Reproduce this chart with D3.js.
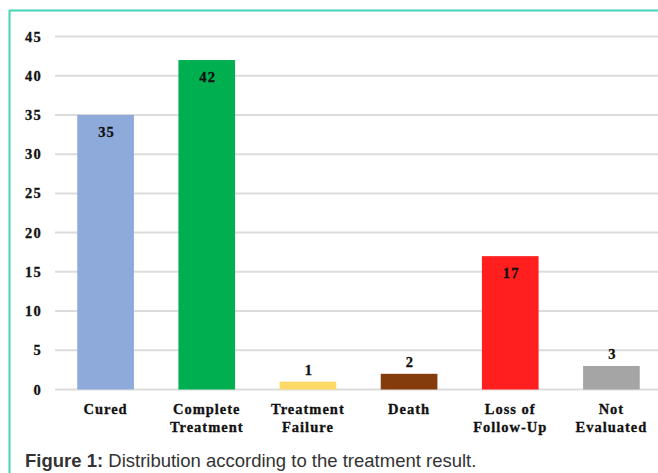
<!DOCTYPE html>
<html>
<head>
<meta charset="utf-8">
<script src="https://cdn.jsdelivr.net/npm/d3@7/dist/d3.min.js"></script>
<style>
html,body{margin:0;padding:0;background:#fff;}
svg{display:block;}
</style>
</head>
<body>
<svg id="chart" width="658" height="473"></svg>
<script>
const categories = [["Cured"], ["Complete", "Treatment"], ["Treatment", "Failure"], ["Death"], ["Loss of", "Follow-Up"], ["Not", "Evaluated"]];
const values = [35, 42, 1, 2, 17, 3];
const colors = ["#8eaadb", "#00b050", "#ffd966", "#843c0c", "#ff1f1f", "#a5a5a5"];
const yTicks = [0, 5, 10, 15, 20, 25, 30, 35, 40, 45];
const caption = ["Figure 1:", " Distribution according to the treatment result."];

const svg = d3.select("#chart");
const W = 658, H = 473;

const x = d3.scaleBand().domain(d3.range(values.length)).range([55, 662]).paddingInner(0.44).paddingOuter(0.22);
const y = d3.scaleLinear().domain([0, 45]).range([389.5, 36.5]);

// border (teal)
svg.append("line").attr("x1", 9.5).attr("x2", W).attr("y1", 10.5).attr("y2", 10.5)
  .attr("stroke", "#45d4b8").attr("stroke-width", 2);
svg.append("line").attr("x1", 9.5).attr("x2", 9.5).attr("y1", 10).attr("y2", H)
  .attr("stroke", "#45d4b8").attr("stroke-width", 2);

// gridlines
svg.append("g").selectAll("line").data(yTicks).join("line")
  .attr("x1", 55).attr("x2", W)
  .attr("y1", d => y(d)).attr("y2", d => y(d))
  .attr("stroke", "#dcdcdc").attr("stroke-width", 2);

const serif = "'Liberation Serif', 'Times New Roman', serif";

// y tick labels
svg.append("g").selectAll("text").data(yTicks).join("text")
  .attr("x", 42).attr("y", d => y(d) + 5)
  .attr("text-anchor", "end")
  .attr("font-family", serif)
  .attr("font-weight", "bold").attr("font-size", 14.5).attr("letter-spacing", 1.2)
  .attr("fill", "#111").attr("stroke", "#111").attr("stroke-width", 0.3)
  .text(d => d);

// bars
svg.append("g").selectAll("rect").data(values).join("rect")
  .attr("x", (d, i) => x(i)).attr("width", x.bandwidth())
  .attr("y", d => y(d)).attr("height", d => y(0) - y(d))
  .attr("fill", (d, i) => colors[i]);

// value labels
svg.append("g").selectAll("text").data(values).join("text")
  .attr("x", (d, i) => x(i) + x.bandwidth() / 2 + 1)
  .attr("y", d => d >= 10 ? y(d) + 22 : y(d) - 7)
  .attr("text-anchor", "middle")
  .attr("font-family", serif)
  .attr("font-weight", "bold").attr("font-size", 14.5).attr("letter-spacing", 1.2)
  .attr("fill", "#111").attr("stroke", "#111").attr("stroke-width", 0.3)
  .text(d => d);

// category labels
const cat = svg.append("g").selectAll("text").data(categories).join("text")
  .attr("text-anchor", "middle")
  .attr("font-family", serif)
  .attr("font-weight", "bold").attr("font-size", 14.5).attr("letter-spacing", 1)
  .attr("fill", "#111").attr("stroke", "#111").attr("stroke-width", 0.3);
cat.each(function(lines, i) {
  d3.select(this).selectAll("tspan").data(lines).join("tspan")
    .attr("x", x(i) + x.bandwidth() / 2)
    .attr("y", (l, j) => 414 + j * 18)
    .text(l => l);
});

// caption
const cap = svg.append("text").attr("x", 25).attr("y", 467)
  .attr("font-family", "'Liberation Sans', Arial, sans-serif")
  .attr("font-size", 18.5).attr("fill", "#333");
cap.append("tspan").attr("font-weight", "bold").text(caption[0]);
cap.append("tspan").text(caption[1]);
</script>
</body>
</html>
